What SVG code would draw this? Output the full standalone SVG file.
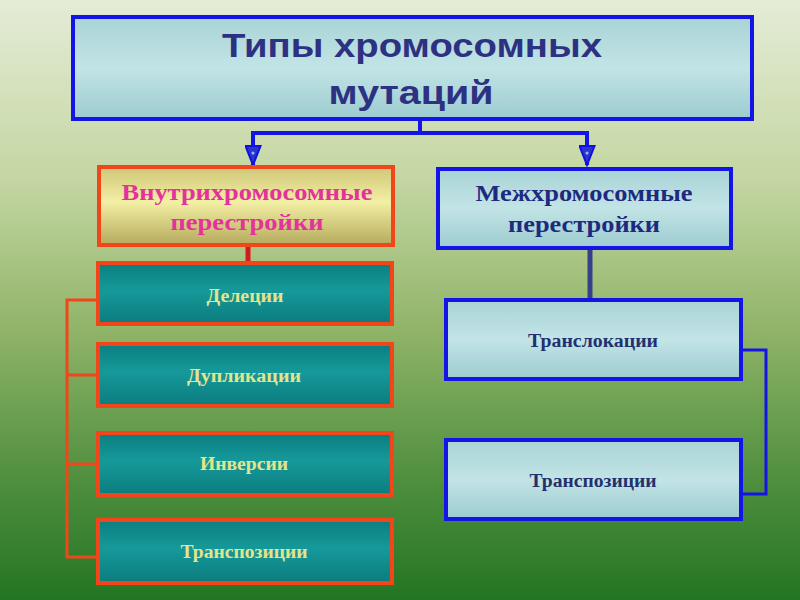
<svg xmlns="http://www.w3.org/2000/svg" width="800" height="600" viewBox="0 0 800 600">
<defs>
<linearGradient id="bg" x1="0" y1="0" x2="0" y2="1">
<stop offset="0" stop-color="#e4ecd6"/>
<stop offset="0.3" stop-color="#c4d6a2"/>
<stop offset="0.55" stop-color="#90b468"/>
<stop offset="0.8" stop-color="#4f8f3e"/>
<stop offset="1" stop-color="#237523"/>
</linearGradient>
<linearGradient id="blueFill" x1="0" y1="0" x2="0" y2="1">
<stop offset="0" stop-color="#a9d3d6"/>
<stop offset="0.5" stop-color="#c2e4e6"/>
<stop offset="1" stop-color="#9ccbd0"/>
</linearGradient>
<linearGradient id="yelFill" x1="0" y1="0" x2="0" y2="1">
<stop offset="0" stop-color="#cfc677"/>
<stop offset="0.45" stop-color="#f3efa4"/>
<stop offset="1" stop-color="#b5aa5c"/>
</linearGradient>
<linearGradient id="tealFill" x1="0" y1="0" x2="0" y2="1">
<stop offset="0" stop-color="#0a7e80"/>
<stop offset="0.45" stop-color="#16999a"/>
<stop offset="1" stop-color="#0b7c7e"/>
</linearGradient>
<marker id="arr" markerWidth="22" markerHeight="17" refX="20" refY="8.5" orient="auto" markerUnits="userSpaceOnUse" viewBox="0 0 22 17">
<path d="M1,1 L1,16 L20,8.5 Z" fill="#2a35d0" stroke="#1010e0" stroke-width="2"/>
<circle cx="8" cy="8.5" r="1.5" fill="#9fb6e6"/>
</marker>
</defs>
<style>
.tit{font-family:"Liberation Sans",Arial,sans-serif;font-weight:bold;font-size:34px;fill:#2d3182;text-anchor:middle}
.hd{font-family:"Liberation Serif","Times New Roman",serif;font-weight:bold;font-size:23px;text-anchor:middle}
.lb{font-family:"Liberation Serif","Times New Roman",serif;font-weight:bold;font-size:18px;text-anchor:middle}
.bl{stroke:#1414e6;stroke-width:4}
.rd{stroke:#f2461a;stroke-width:4}
</style>
<rect width="800" height="600" fill="url(#bg)"/>
<g id="connectors" fill="none">
<path d="M420,120 V133 M253,133 H587" stroke="#1414e6" stroke-width="4"/>
<path d="M253,131 V165" stroke="#1414e6" stroke-width="4" marker-end="url(#arr)"/>
<path d="M587,131 V165" stroke="#1414e6" stroke-width="4" marker-end="url(#arr)"/>
<path d="M248,247 V262" stroke="#d41a1a" stroke-width="5"/>
<path d="M97,300 H67 V557 H97 M67,375 H97 M67,464 H97" stroke="#f2461a" stroke-width="3"/>
<path d="M590,249 V299" stroke="#34408a" stroke-width="5"/>
<path d="M742,350 H766 V494 H742" stroke="#1414e6" stroke-width="3"/>
</g>
<g id="title">
<rect x="73" y="17" width="679" height="102" fill="url(#blueFill)" class="bl"/>
<text x="412" y="57" class="tit" textLength="380" lengthAdjust="spacingAndGlyphs">Типы хромосомных</text>
<text x="411" y="104" class="tit" textLength="165" lengthAdjust="spacingAndGlyphs">мутаций</text>
</g>
<g id="intra">
<rect x="99" y="167" width="294" height="78" fill="url(#yelFill)" class="rd"/>
<text x="247" y="200" class="hd" fill="#e4329c" textLength="251" lengthAdjust="spacingAndGlyphs">Внутрихромосомные</text>
<text x="247" y="230" class="hd" fill="#e4329c" textLength="153" lengthAdjust="spacingAndGlyphs">перестройки</text>
</g>
<g id="inter">
<rect x="438" y="169" width="293" height="79" fill="url(#blueFill)" class="bl"/>
<text x="584" y="201" class="hd" fill="#1e2a80" textLength="217" lengthAdjust="spacingAndGlyphs">Межхромосомные</text>
<text x="584" y="232" class="hd" fill="#1e2a80" textLength="152" lengthAdjust="spacingAndGlyphs">перестройки</text>
</g>
<g id="deletions">
<rect x="98" y="263" width="294" height="61" fill="url(#tealFill)" class="rd"/>
<text x="245" y="302" class="lb" fill="#e6e48a" textLength="77" lengthAdjust="spacingAndGlyphs">Делеции</text>
</g>
<g id="duplications">
<rect x="98" y="344" width="294" height="62" fill="url(#tealFill)" class="rd"/>
<text x="244" y="382" class="lb" fill="#e6e48a" textLength="114" lengthAdjust="spacingAndGlyphs">Дупликации</text>
</g>
<g id="inversions">
<rect x="98" y="433" width="294" height="62" fill="url(#tealFill)" class="rd"/>
<text x="244" y="470" class="lb" fill="#e6e48a" textLength="88" lengthAdjust="spacingAndGlyphs">Инверсии</text>
</g>
<g id="transpositions-left">
<rect x="98" y="520" width="294" height="63" fill="url(#tealFill)" class="rd"/>
<text x="244" y="558" class="lb" fill="#e6e48a" textLength="127" lengthAdjust="spacingAndGlyphs">Транспозиции</text>
</g>
<g id="translocations">
<rect x="446" y="300" width="295" height="79" fill="url(#blueFill)" class="bl"/>
<text x="593" y="347" class="lb" fill="#23306e" textLength="130" lengthAdjust="spacingAndGlyphs">Транслокации</text>
</g>
<g id="transpositions-right">
<rect x="446" y="440" width="295" height="79" fill="url(#blueFill)" class="bl"/>
<text x="593" y="487" class="lb" fill="#23306e" textLength="127" lengthAdjust="spacingAndGlyphs">Транспозиции</text>
</g>
</svg>
